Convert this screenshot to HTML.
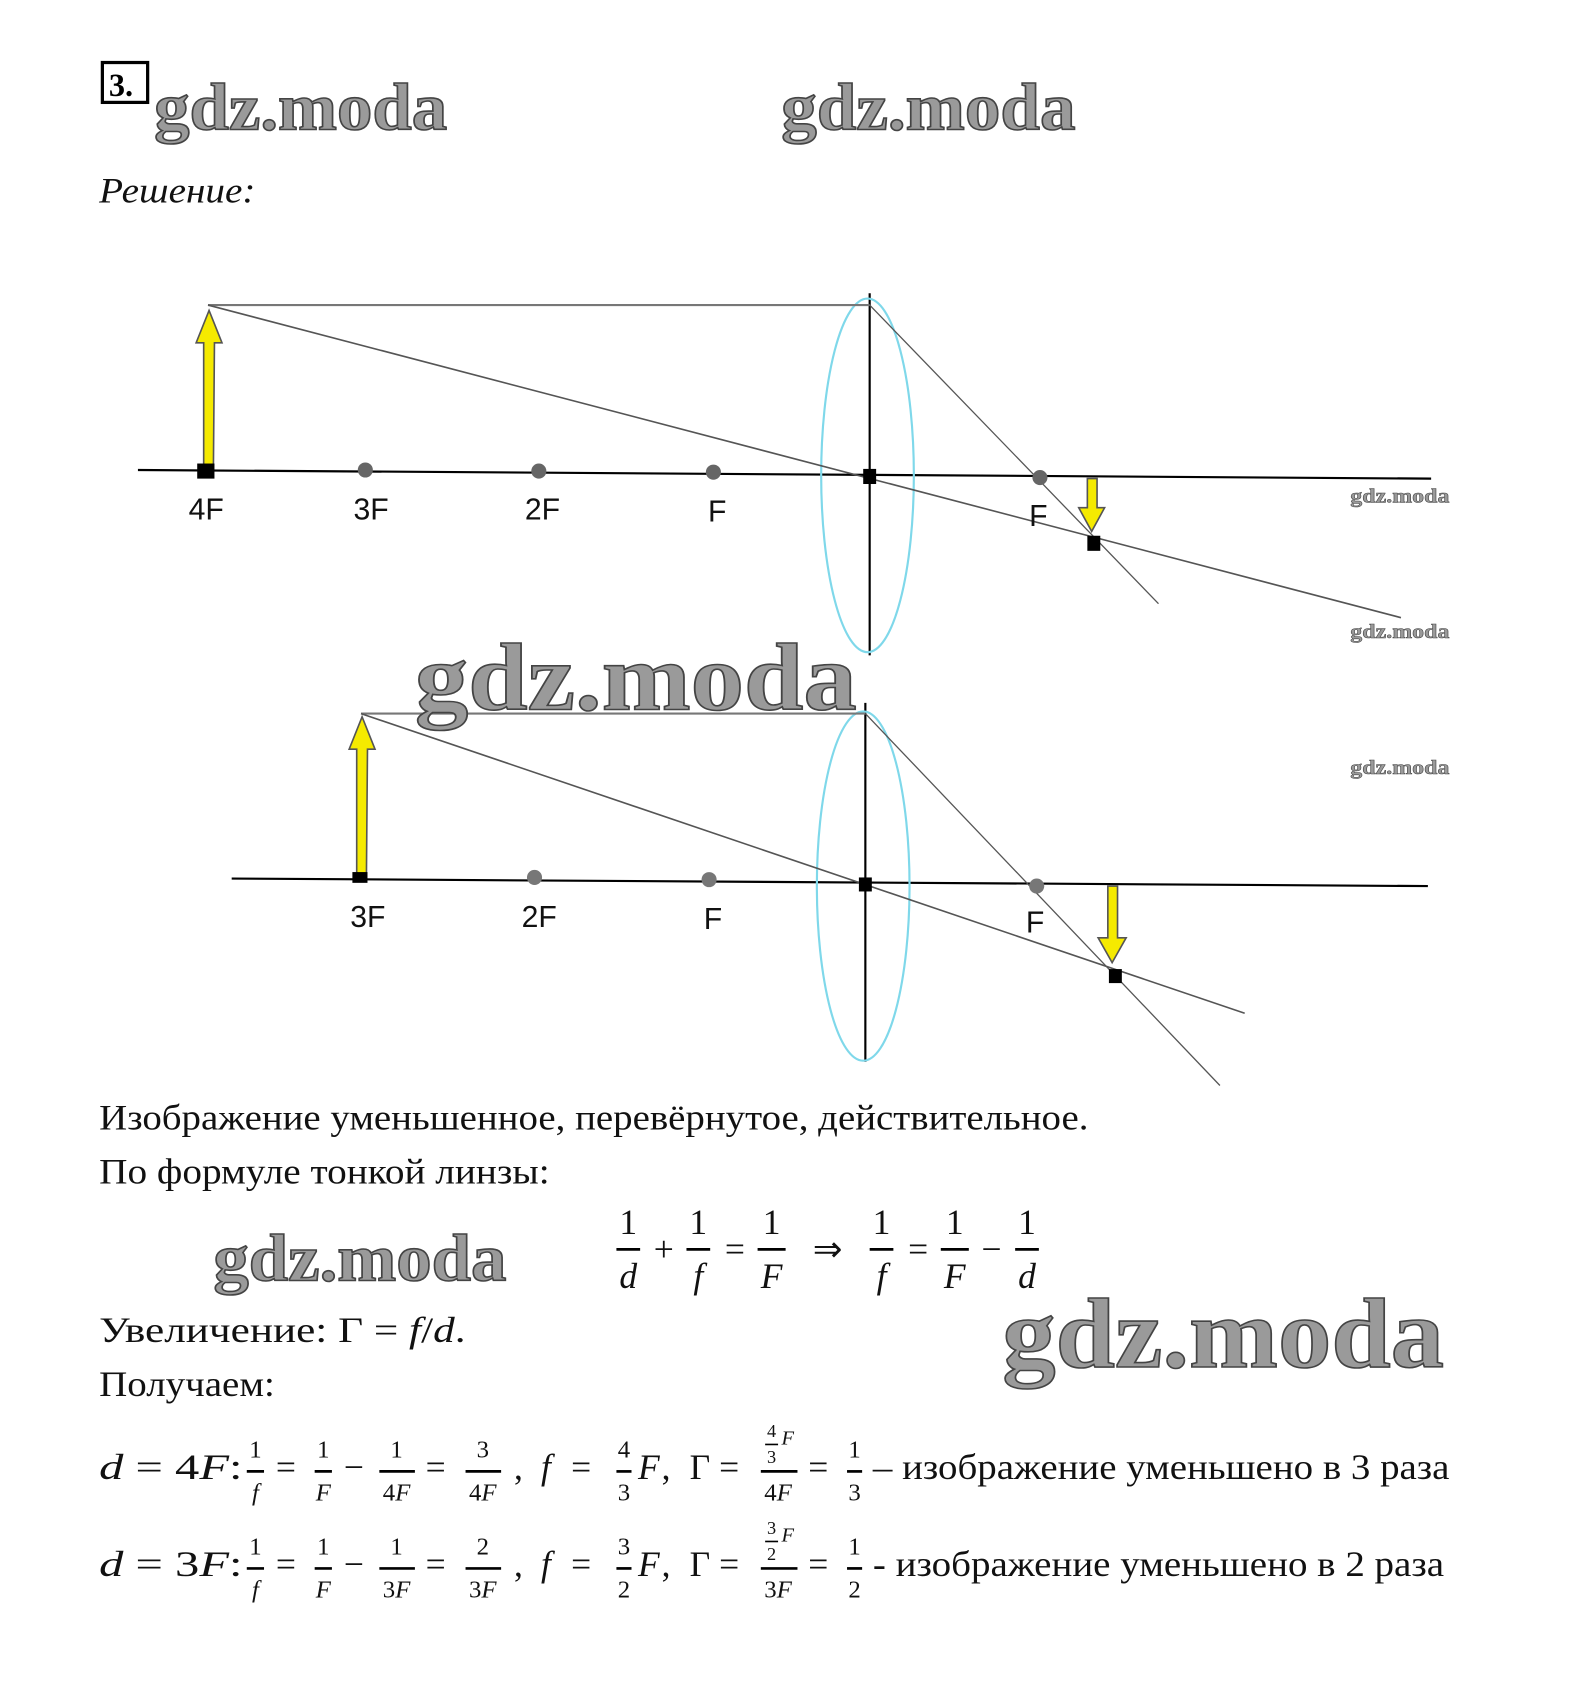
<!DOCTYPE html>
<html><head><meta charset="utf-8"><style>
html,body{margin:0;padding:0;background:#fff}
svg{display:block}
.s{font-family:"Liberation Serif",serif}
.a{font-family:"Liberation Sans",sans-serif;font-size:28px;fill:#111}
.w{font-family:"Liberation Serif",serif;font-weight:bold;fill:#9a9a9a;stroke:#444;stroke-width:1.5}
.t{font-family:"Liberation Serif",serif;font-size:33px;fill:#111}
.m{font-family:"Liberation Serif",serif;font-size:33px;fill:#111}
.f{font-family:"Liberation Serif",serif;font-size:23px;fill:#111;text-anchor:middle}
.i{font-style:italic}
</style></head><body>
<svg width="1582" height="1687" viewBox="0 0 1468 1565" preserveAspectRatio="none" xmlns="http://www.w3.org/2000/svg">
<rect x="95" y="58" width="42" height="37" fill="none" stroke="#000" stroke-width="3"/>
<text x="101" y="89" class="s" font-size="30" font-weight="bold">3.</text>
<text x="143" y="120" class="w" font-size="62" textLength="272" lengthAdjust="spacingAndGlyphs">gdz.moda</text>
<text x="725" y="120" class="w" font-size="62" textLength="273" lengthAdjust="spacingAndGlyphs">gdz.moda</text>
<text x="92" y="188" class="t i" font-size="32" textLength="145" lengthAdjust="spacingAndGlyphs">Решение:</text>

<!-- Diagram 1 -->
<g stroke="#000" fill="none">
<line x1="128" y1="436" x2="1328" y2="444" stroke-width="2"/>
<line x1="807" y1="272" x2="807" y2="608" stroke-width="2"/>
<ellipse cx="805" cy="441" rx="43" ry="164" stroke="#7fd8ea" stroke-width="2"/>
<line x1="193" y1="283" x2="807" y2="283" stroke="#777" stroke-width="2"/>
<line x1="807" y1="283" x2="1075" y2="560" stroke="#555" stroke-width="1.2"/>
<line x1="193" y1="283" x2="1300" y2="573" stroke="#555" stroke-width="1.5"/>
</g>
<polygon points="189,437 189,318 182,318 194,288 206,318 199,318 198,437" fill="#f5ea00" stroke="#555" stroke-width="1.5"/>
<rect x="183" y="430" width="16" height="14" fill="#000"/>
<g fill="#666"><circle cx="339" cy="436" r="7"/><circle cx="500" cy="437" r="7"/><circle cx="662" cy="438" r="7"/><circle cx="965" cy="443" r="7"/></g>
<rect x="801" y="435" width="12" height="14" fill="#000"/>
<polygon points="1009,444 1018,444 1018,471 1025,471 1013,493 1001,471 1009,471" fill="#f5ea00" stroke="#555" stroke-width="1.5"/>
<rect x="1009" y="497" width="12" height="14" fill="#000"/>
<text x="175" y="482" class="a">4F</text><text x="328" y="482" class="a">3F</text><text x="487" y="482" class="a">2F</text><text x="657" y="484" class="a">F</text><text x="955" y="488" class="a">F</text>
<text x="1253" y="466" class="w" font-size="19" style="stroke-width:.5" textLength="92" lengthAdjust="spacingAndGlyphs">gdz.moda</text>
<text x="1253" y="592" class="w" font-size="19" style="stroke-width:.5" textLength="92" lengthAdjust="spacingAndGlyphs">gdz.moda</text>
<text x="1253" y="718" class="w" font-size="19" style="stroke-width:.5" textLength="92" lengthAdjust="spacingAndGlyphs">gdz.moda</text>

<!-- Diagram 2 -->
<g stroke="#000" fill="none">
<line x1="215" y1="815" x2="1325" y2="822" stroke-width="2"/>
<line x1="803" y1="652" x2="803" y2="985" stroke-width="2"/>
<ellipse cx="801" cy="822" rx="43" ry="162" stroke="#7fd8ea" stroke-width="2"/>
<line x1="335" y1="662" x2="803" y2="662" stroke="#777" stroke-width="2"/>
<line x1="803" y1="662" x2="1132" y2="1007" stroke="#555" stroke-width="1.2"/>
<line x1="335" y1="662" x2="1155" y2="940" stroke="#555" stroke-width="1.5"/>
</g>
<polygon points="331,815 331,695 324,695 336,665 348,695 341,695 340,815" fill="#f5ea00" stroke="#555" stroke-width="1.5"/>
<rect x="327" y="809" width="14" height="10" fill="#000"/>
<g fill="#777"><circle cx="496" cy="814" r="7"/><circle cx="658" cy="816" r="7"/><circle cx="962" cy="822" r="7"/></g>
<rect x="797" y="814" width="12" height="13" fill="#000"/>
<polygon points="1028,822 1037,822 1037,870 1045,870 1032,893 1019,870 1028,870" fill="#f5ea00" stroke="#555" stroke-width="1.5"/>
<rect x="1029" y="899" width="12" height="13" fill="#000"/>
<text x="325" y="860" class="a">3F</text><text x="484" y="860" class="a">2F</text><text x="653" y="862" class="a">F</text><text x="952" y="865" class="a">F</text>
<text x="385" y="658" class="w" font-size="88" textLength="410" lengthAdjust="spacingAndGlyphs">gdz.moda</text>

<!-- Text -->
<text x="92" y="1048" class="t" textLength="918" lengthAdjust="spacingAndGlyphs">Изображение уменьшенное, перевёрнутое, действительное.</text>
<text x="92" y="1098" class="t" textLength="418" lengthAdjust="spacingAndGlyphs">По формуле тонкой линзы:</text>
<text x="198" y="1188" class="w" font-size="62" textLength="272" lengthAdjust="spacingAndGlyphs">gdz.moda</text>
<g class="m" text-anchor="middle" font-size="35">
<text x="583" y="1145">1</text><text x="583" y="1195" class="i">d</text>
<text x="616" y="1170">+</text>
<text x="648" y="1145">1</text><text x="648" y="1195" class="i">f</text>
<text x="682" y="1170">=</text>
<text x="716" y="1145">1</text><text x="716" y="1195" class="i">F</text>
<text x="768" y="1170">⇒</text>
<text x="818" y="1145">1</text><text x="818" y="1195" class="i">f</text>
<text x="852" y="1170">=</text>
<text x="886" y="1145">1</text><text x="886" y="1195" class="i">F</text>
<text x="920" y="1170">−</text>
<text x="953" y="1145">1</text><text x="953" y="1195" class="i">d</text>
</g>
<g stroke="#000" stroke-width="2.5"><line x1="572" y1="1159" x2="594" y2="1159"/><line x1="637" y1="1159" x2="659" y2="1159"/><line x1="703" y1="1159" x2="729" y2="1159"/><line x1="807" y1="1159" x2="829" y2="1159"/><line x1="873" y1="1159" x2="899" y2="1159"/><line x1="942" y1="1159" x2="964" y2="1159"/></g>
<text x="92" y="1245" class="t" textLength="340" lengthAdjust="spacingAndGlyphs">Увеличение: Г = <tspan class="i">f</tspan>/<tspan class="i">d</tspan>.</text>
<text x="930" y="1268" class="w" font-size="92" textLength="410" lengthAdjust="spacingAndGlyphs">gdz.moda</text>
<text x="92" y="1295" class="t" textLength="163" lengthAdjust="spacingAndGlyphs">Получаем:</text>

<!-- row 1 -->
<text x="92" y="1372" class="m" textLength="133" lengthAdjust="spacingAndGlyphs"><tspan class="i">d</tspan> = 4<tspan class="i">F</tspan>:</text>
<g class="f">
<text x="237" y="1352">1</text><text x="237" y="1392" class="i">f</text>
<text x="300" y="1352">1</text><text x="300" y="1392" class="i">F</text>
<text x="368" y="1352">1</text><text x="368" y="1392">4<tspan class="i">F</tspan></text>
<text x="448" y="1352">3</text><text x="448" y="1392">4<tspan class="i">F</tspan></text>
<text x="579" y="1352">4</text><text x="579" y="1392">3</text>
<text x="716" y="1333" font-size="17">4</text><text x="731" y="1340" font-size="19" class="i">F</text><text x="716" y="1357" font-size="17">3</text>
<text x="722" y="1392">4<tspan class="i">F</tspan></text>
<text x="793" y="1352">1</text><text x="793" y="1392">3</text>
</g>
<g class="m"><text x="256" y="1372">=</text><text x="319" y="1372">−</text><text x="395" y="1372">=</text><text x="477" y="1372">,</text><text x="502" y="1372" class="i">f</text><text x="530" y="1372">=</text><text x="592" y="1372" class="i">F</text><text x="614" y="1372">,</text><text x="640" y="1372">Г =</text><text x="750" y="1372">=</text></g>
<text x="810" y="1372" class="t" font-size="31" textLength="535" lengthAdjust="spacingAndGlyphs">– изображение уменьшено в 3 раза</text>
<g stroke="#000" stroke-width="2.5"><line x1="229" y1="1365" x2="245" y2="1365"/><line x1="292" y1="1365" x2="308" y2="1365"/><line x1="352" y1="1365" x2="385" y2="1365"/><line x1="432" y1="1365" x2="465" y2="1365"/><line x1="572" y1="1365" x2="586" y2="1365"/><line x1="706" y1="1365" x2="740" y2="1365"/><line x1="786" y1="1365" x2="800" y2="1365"/><line x1="710" y1="1340" x2="722" y2="1340" stroke-width="1.5"/></g>

<!-- row 2 -->
<text x="92" y="1462" class="m" textLength="133" lengthAdjust="spacingAndGlyphs"><tspan class="i">d</tspan> = 3<tspan class="i">F</tspan>:</text>
<g class="f">
<text x="237" y="1442">1</text><text x="237" y="1482" class="i">f</text>
<text x="300" y="1442">1</text><text x="300" y="1482" class="i">F</text>
<text x="368" y="1442">1</text><text x="368" y="1482">3<tspan class="i">F</tspan></text>
<text x="448" y="1442">2</text><text x="448" y="1482">3<tspan class="i">F</tspan></text>
<text x="579" y="1442">3</text><text x="579" y="1482">2</text>
<text x="716" y="1423" font-size="17">3</text><text x="731" y="1430" font-size="19" class="i">F</text><text x="716" y="1447" font-size="17">2</text>
<text x="722" y="1482">3<tspan class="i">F</tspan></text>
<text x="793" y="1442">1</text><text x="793" y="1482">2</text>
</g>
<g class="m"><text x="256" y="1462">=</text><text x="319" y="1462">−</text><text x="395" y="1462">=</text><text x="477" y="1462">,</text><text x="502" y="1462" class="i">f</text><text x="530" y="1462">=</text><text x="592" y="1462" class="i">F</text><text x="614" y="1462">,</text><text x="640" y="1462">Г =</text><text x="750" y="1462">=</text></g>
<text x="810" y="1462" class="t" font-size="31" textLength="530" lengthAdjust="spacingAndGlyphs">- изображение уменьшено в 2 раза</text>
<g stroke="#000" stroke-width="2.5"><line x1="229" y1="1455" x2="245" y2="1455"/><line x1="292" y1="1455" x2="308" y2="1455"/><line x1="352" y1="1455" x2="385" y2="1455"/><line x1="432" y1="1455" x2="465" y2="1455"/><line x1="572" y1="1455" x2="586" y2="1455"/><line x1="706" y1="1455" x2="740" y2="1455"/><line x1="786" y1="1455" x2="800" y2="1455"/><line x1="710" y1="1430" x2="722" y2="1430" stroke-width="1.5"/></g>
</svg>
</body></html>
